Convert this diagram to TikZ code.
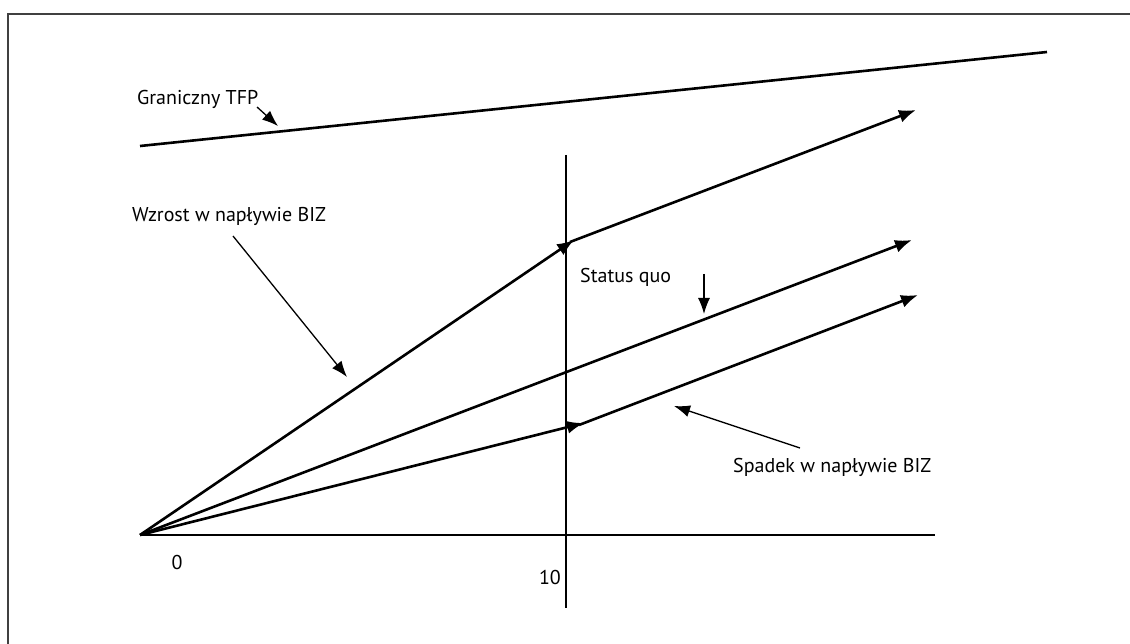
\documentclass[tikz,border=0pt]{standalone}
\usepackage{fontspec}
\setmainfont{PT Sans}
\usetikzlibrary{arrows.meta}

\begin{document}
\begin{tikzpicture}[
  x=1pt, y=-1pt,
  font=\fontsize{20}{23}\selectfont,
  frame/.style={line width=2pt, black!75},
  axis/.style={line width=2pt},
  path line/.style={line width=2.6pt, -{Latex[length=17pt,width=13pt]}},
  pointer/.style={line width=1.3pt, -{Latex[length=16pt,width=12pt]}},
  label/.style={inner sep=0pt, anchor=west},
]
\useasboundingbox (0,0) rectangle (1130,644);

% Frame (only top and left edges show).
\draw[frame] (8,650) -- (8,14) -- (1140,14);

% Key points.
\coordinate (O)    at (140,535);
\coordinate (xend) at (935,535);
\coordinate (vtop) at (566,155);
\coordinate (vbot) at (566,608);
\coordinate (tfpL) at (140,146);
\coordinate (tfpR) at (1047,52);
\coordinate (upK)  at (574,240);
\coordinate (upS)  at (570,242);
\coordinate (upE)  at (916,110);
\coordinate (sqE)  at (912,240);
\coordinate (loK)  at (584,423);
\coordinate (loS)  at (579,425);
\coordinate (loE)  at (918,295);

% Axes and the frontier.
\draw[axis] (O) -- (xend);
\draw[axis] (vtop) -- (vbot);
\draw[line width=2.6pt] (tfpL) -- (tfpR);

% The three paths from the origin.
\draw[path line] (O) -- (upK);
\draw[path line] (upS) -- (upE);
\draw[path line] (O) -- (sqE);
\draw[path line] (O) -- (loK);
\draw[path line] (loS) -- (loE);

% Labels.
\node[label] (tfp)    at (137,99)  {Graniczny TFP};
\node[label] (wzrost) at (132,216) {Wzrost w napływie BIZ};
\node[label] (status) at (580,277) {Status quo};
\node[label] (spadek) at (733,467) {Spadek w napływie BIZ};
\node (zero) at (177,562) {0};
\node[anchor=east, inner sep=0pt] (ten) at (561,577) {10};

% Pointers from the labels.
\coordinate (tfpA)    at (257,107);
\coordinate (tfpB)    at (278,126);
\coordinate (wzrostA) at (233,236);
\coordinate (wzrostB) at (347,377);
\coordinate (statusA) at (704,274);
\coordinate (statusB) at (704,314);
\coordinate (spadekA) at (800,448);
\coordinate (spadekB) at (674,406);
\draw[pointer] (tfpA) -- (tfpB);
\draw[pointer] (wzrostA) -- (wzrostB);
\draw[pointer] (statusA) -- (statusB);
\draw[pointer] (spadekA) -- (spadekB);

\end{tikzpicture}
\end{document}
